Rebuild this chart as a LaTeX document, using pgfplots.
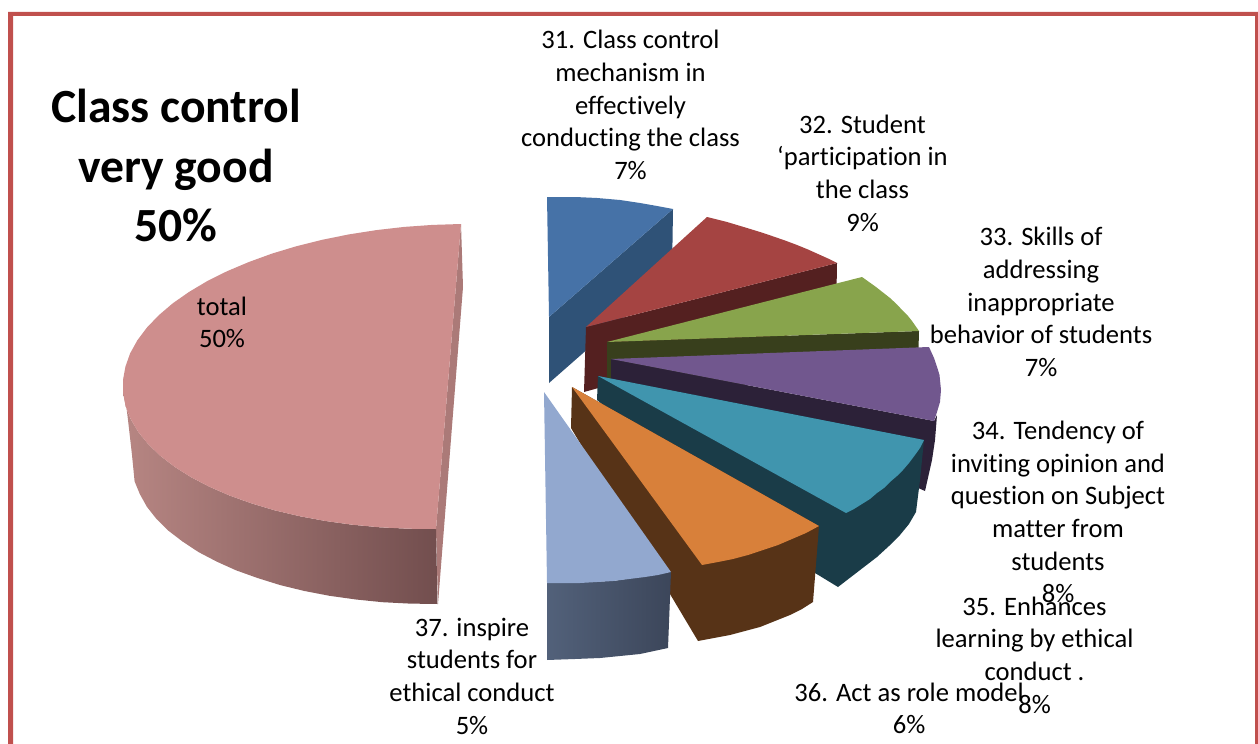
\documentclass[border=0pt]{standalone}
\usepackage{pgfplots}
\pgfplotsset{compat=1.18}
\usepackage{fontspec}
\setmainfont[Ligatures=NoCommon]{Carlito}
\definecolor{frameR}{HTML}{C0504D}
\definecolor{blueT}{HTML}{4672A7}\definecolor{blueS}{HTML}{2F5277}
\definecolor{redT}{HTML}{A54442}\definecolor{redS}{HTML}{542020}
\definecolor{greenT}{HTML}{88A44C}\definecolor{greenS}{HTML}{383F1C}
\definecolor{purpT}{HTML}{71578E}\definecolor{purpS}{HTML}{2C2138}
\definecolor{tealT}{HTML}{4095AE}\definecolor{tealS}{HTML}{1A3C48}
\definecolor{orT}{HTML}{D8803A}\definecolor{orS}{HTML}{573317}
\definecolor{lbT}{HTML}{92A8CF}\definecolor{lbA}{HTML}{52617A}\definecolor{lbB}{HTML}{3C465A}
\definecolor{pinkT}{HTML}{CE8E8D}\definecolor{pinkS}{HTML}{AB7A78}\definecolor{pinkA}{HTML}{B78683}\definecolor{pinkB}{HTML}{724E4E}
\tikzset{lab/.style={align=center,font=\fontsize{26.7}{32.8}\selectfont,inner sep=0pt,text=black}}
\begin{document}
\begin{tikzpicture}
\begin{axis}[scale only axis,width=1258bp,height=744bp,xmin=0,xmax=1258,ymin=0,ymax=744,y dir=reverse,hide axis,clip=true]
% extent of the picture
\addplot[draw=none,forget plot] coordinates {(0,0)(1258,744)};
% frame
\addplot[draw=none,fill=frameR] coordinates {(8,744)(8,12)(1258,12)(1258,16)(13,16)(13,744)} --cycle;
\addplot[draw=none,fill=frameR] coordinates {(1255,16)(1258,16)(1258,744)(1255,744)} --cycle;
% 31
\addplot[draw=none,fill=blueS] coordinates {(549,317)(673,209)(672,275)(549,383)} --cycle;
\addplot[draw=none,fill=blueT] coordinates {(547,197)(575,197)(597,198)(620,200)(640,203)(657,206)(673,209)(549,317)} --cycle;
% 32
\addplot[draw=none,fill=redS] coordinates {(586,327)(837,263)(836,322)(584,392)} --cycle;
\addplot[draw=none,fill=redT] coordinates {(586,327)(707,217)(717,219.5)(727,222)(737,225)(747,228)(760,232)(772,236)(785,240.5)(797,245)(808,249.5)(818,254)(828,258.5)(837,263)} --cycle;
% 33
\addplot[draw=none,fill=greenS] coordinates {(607,342)(919,331)(918,367)(607,400)} --cycle;
\addplot[draw=none,fill=greenT] coordinates {(607,342)(862,277)(869,282)(876,287)(883,292.5)(890,298)(897,304.5)(903,311)(908,316)(912,321)(919,331)} --cycle;
% 34
\addplot[draw=none,fill=purpS] coordinates {(611,359)(934,421)(937,415)(935,440)(932,460)(925,491)(900,480)(611,420)} --cycle;
\addplot[draw=none,fill=purpT] coordinates {(611,359)(929,347)(934,358)(936,364)(938,370)(939.5,375)(940,380)(941,390)(940.5,396)(940,402)(938.5,407)(937,412)(934,421)} --cycle;
% 35
\addplot[draw=none,fill=tealS] coordinates {(598,376)(924,440)(922,460)(920,480)(916,512)(909,524)(900,535)(889,546)(877,557)(838,587)(815,573)(597,400)} --cycle;
\addplot[draw=none,fill=tealT] coordinates {(598,376)(924,440)(920,448)(915,455)(909,463)(903,470)(897,476)(890,482)(884,488)(877,493)(870,499)(862,504)(854,509)(846,513)} --cycle;
% 36
\addplot[draw=none,fill=orS] coordinates {(572,387)(819,526)(813,602)(802,609)(790,615)(775,621)(760,627)(745,631)(730,635)(714,638)(698,641)(571,428)} --cycle;
\addplot[draw=none,fill=orT] coordinates {(572,387)(819,526)(806,533)(792,539)(778,545)(763,550)(748,555)(733,559)(718,562)(702,565)} --cycle;
% 37
\addplot[draw=none,left color=lbA,right color=lbB] coordinates {(547,583)(613,581)(671,572)(668,648)(654,651)(640,654)(620,656)(600,658)(575,659)(547,660)} --cycle;
\addplot[draw=none,fill=lbT] coordinates {(544,392)(671,572)(658,575)(645,577)(629,579)(613,581)(597,582)(580,583)(547,583)} --cycle;
% total
\addplot[draw=none,fill=pinkS] coordinates {(461,224)(463,287)(438,604)(436,529)} --cycle;
\addplot[draw=none,left color=pinkA,right color=pinkB] coordinates {(123,380)(123.2,393.3)(125.7,406.4)(130.9,419.4)(138.3,432)(148.2,444.2)(160.3,455.8)(174.7,466.9)(191.2,477.3)(209.5,486.8)(229.7,495.6)(251.6,503.4)(274.9,510.4)(299.6,516.2)(325.5,521)(352.2,524.7)(379.7,527.3)(407.7,528.7)(436,529)(437.5,604)(410,603.6)(382.5,602.2)(356,599.5)(329.5,595.8)(304.5,591)(280.2,585.1)(257.5,578)(236,570.3)(216.5,561.5)(198.4,552)(182.5,541.5)(168.3,530.6)(156.5,519)(146.9,506.8)(139.8,494)(134.6,481.4)(132,455)(128,420)} --cycle;
\addplot[draw=none,fill=pinkT] coordinates {(461,224)(432.6,224.9)(404.3,226.9)(376.4,230.1)(348.9,234.4)(322.2,239.8)(296.5,246.2)(272,253.6)(248.9,262)(227.1,271.2)(207.2,281.1)(189.1,291.9)(172.9,303.2)(158.8,315.2)(146.9,327.6)(137.3,340.4)(130.1,353.4)(125.4,366.7)(123,380)(123.2,393.3)(125.7,406.4)(130.9,419.4)(138.3,432)(148.2,444.2)(160.3,455.8)(174.7,466.9)(191.2,477.3)(209.5,486.8)(229.7,495.6)(251.6,503.4)(274.9,510.4)(299.6,516.2)(325.5,521)(352.2,524.7)(379.7,527.3)(407.7,528.7)(436,529)} --cycle;
% text
\node[align=center,inner sep=0pt,font=\fontsize{47.8}{59.5}\selectfont\bfseries] at (axis cs:176,165.5) {Class control\\very good\\50\%};
\node[lab] at (axis cs:630.5,105) {31. Class control\\mechanism in\\effectively\\conducting the class\\7\%};
\node[lab] at (axis cs:862.5,173) {32. Student\\‘participation in\\the class\\9\%};
\node[lab] at (axis cs:1041,302) {33. Skills of\\addressing\\inappropriate\\behavior of students\\7\%};
\node[lab] at (axis cs:1058,512) {34. Tendency of\\inviting opinion and\\question on Subject\\matter from\\students\\8\%};
\node[lab] at (axis cs:1034.5,655) {35. Enhances\\learning by ethical\\conduct .\\8\%};
\node[lab] at (axis cs:909,708.5) {36. Act as role model\\6\%};
\node[lab] at (axis cs:472,676) {37. inspire\\students for\\ethical conduct\\5\%};
\node[lab] at (axis cs:222,322.5) {total\\50\%};
\end{axis}
\end{tikzpicture}
\end{document}
